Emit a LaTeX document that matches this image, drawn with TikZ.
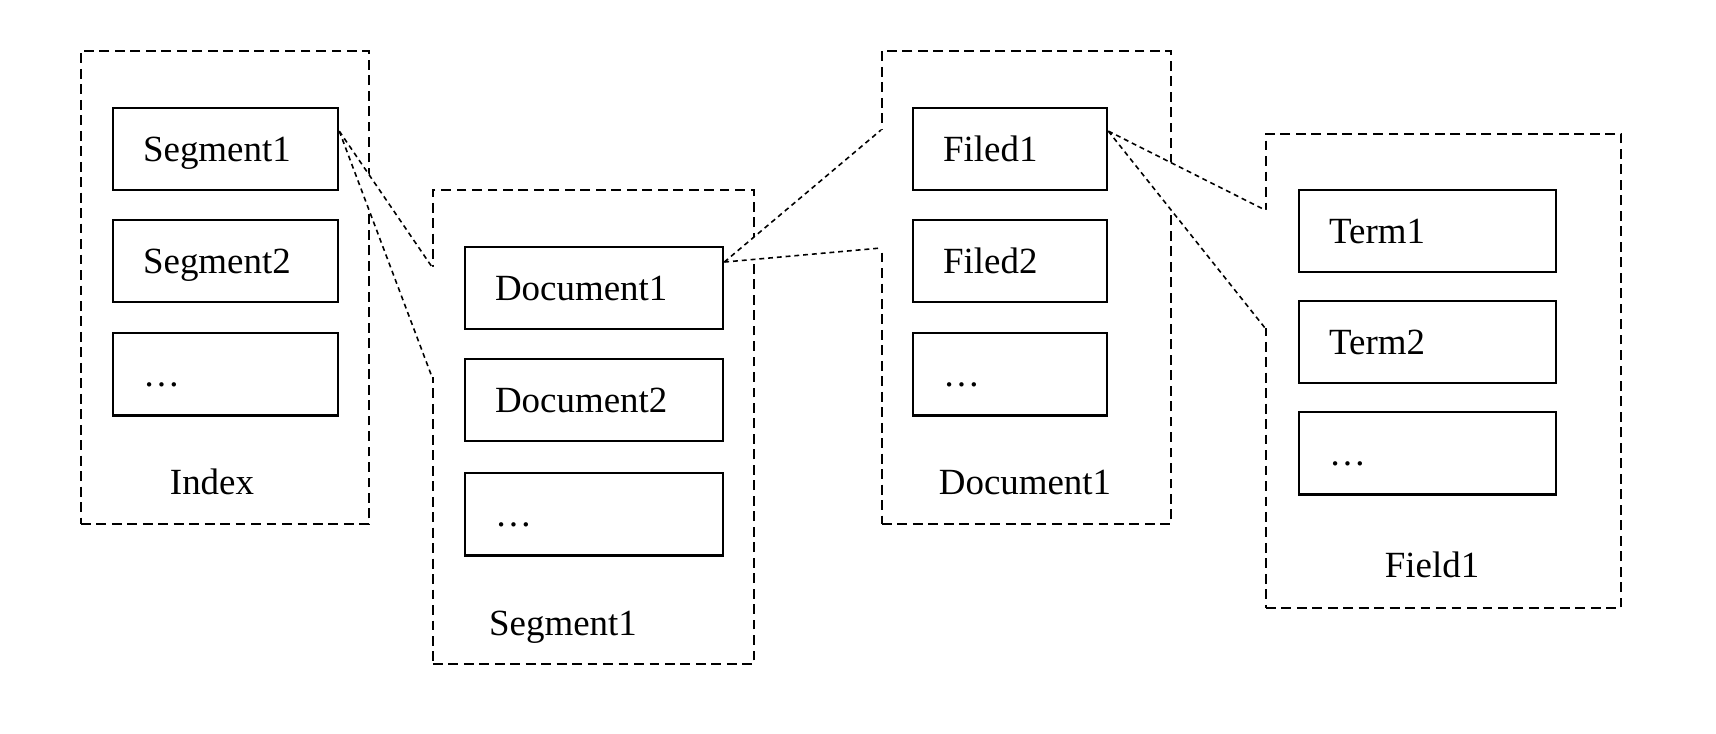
\documentclass[tikz,border=0pt]{standalone}
\usepackage{fontspec}
\setmainfont{Liberation Serif}
\usetikzlibrary{positioning,backgrounds}

\tikzset{
  entry/.style={draw, line width=0.6pt, minimum height=8.2mm, text width=#1,
    inner xsep=3mm, align=left, text height=1.5ex, text depth=0pt},
  holder/.style={draw, line width=0.5pt, dash pattern=on 2.8pt off 1.6pt,
    anchor=north west, inner sep=0pt},
  caption/.style={text height=1.5ex, text depth=0pt},
  callout/.style={line width=0.45pt, dash pattern=on 1.4pt off 1.1pt},
}

\begin{document}
\begin{tikzpicture}[x=0.01cm, y=-0.01cm, font=\fontsize{10.5}{12}\selectfont]
  \useasboundingbox (0,0) rectangle (1716,734);

  % index
  \node[entry=1.65cm, anchor=north west] (seg1) at (112,107) {Segment1};
  \node[entry=1.65cm, below=2.8mm of seg1] (seg2) {Segment2};
  \node[entry=1.65cm, below=2.9mm of seg2] (segdots) {…};
  \node[caption] (idxcap) at (212,482) {Index};

  % segment
  \node[entry=1.98cm, anchor=north west] (doc1) at (464,246) {Document1};
  \node[entry=1.98cm, below=2.8mm of doc1] (doc2) {Document2};
  \node[entry=1.98cm, below=3mm of doc2] (docdots) {…};
  \node[caption] (segcap) at (563,623) {Segment1};

  % document
  \node[entry=1.34cm, anchor=north west] (fld1) at (912,107) {Filed1};
  \node[entry=1.34cm, below=2.8mm of fld1] (fld2) {Filed2};
  \node[entry=1.34cm, below=2.9mm of fld2] (flddots) {…};
  \node[caption] (doccap) at (1025,482) {Document1};

  % field
  \begin{scope}[every node/.append style={minimum height=8.4mm}]
    \node[entry=1.97cm, anchor=north west] (term1) at (1298,189) {Term1};
    \node[entry=1.97cm, below=2.7mm of term1] (term2) {Term2};
    \node[entry=1.97cm, below=2.7mm of term2] (termdots) {…};
  \end{scope}
  \node[caption] (fldcap) at (1432,565) {Field1};

  % callout ends
  \coordinate (segout) at ([yshift=1.8mm]seg1.east);
  \coordinate (segtop) at (432,267);
  \coordinate (segbot) at (432,377);
  \coordinate (docout) at ([yshift=2.6mm]doc1.east);
  \coordinate (doctop) at (881,130);
  \coordinate (docbot) at (881,248);
  \coordinate (fldout) at ([yshift=1.8mm]fld1.east);
  \coordinate (fldtop) at (1265,210);
  \coordinate (fldbot) at (1265,328);

  \draw[callout] (segout) -- (segtop) (segout) -- (segbot);
  \draw[callout] (docout) -- (doctop) (docout) -- (docbot);
  \draw[callout] (fldout) -- (fldtop) (fldout) -- (fldbot);

  \begin{pgfonlayer}{background}
    \node[holder, minimum width=2.88cm, minimum height=4.73cm] (index) at (80,50) {};
    \node[holder, minimum width=3.21cm, minimum height=4.74cm] (segment) at (432,189) {};
    \node[holder, minimum width=2.89cm, minimum height=4.73cm] (document) at (881,50) {};
    \node[holder, minimum width=3.55cm, minimum height=4.74cm] (field) at (1265,133) {};
    \foreach \a/\b in {seg/seg, doc/doc, fld/fld}
      \fill[white] (\a out) -- (\b top) -- ([xshift=1pt]\b top)
        -- ([xshift=1pt]\b bot) -- (\b bot) -- cycle;
  \end{pgfonlayer}
\end{tikzpicture}
\end{document}
